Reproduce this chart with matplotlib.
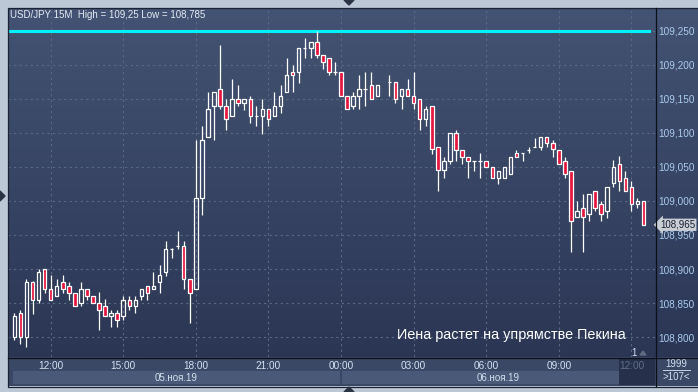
import numpy as np
import pandas as pd
import matplotlib
matplotlib.use('Agg')
import matplotlib.pyplot as plt
import matplotlib.transforms as mtransforms
from matplotlib.colors import LinearSegmentedColormap
from matplotlib.patches import Polygon, Rectangle

plt.rcParams['font.family'] = ['Liberation Sans', 'DejaVu Sans']

# USD/JPY 15M candles, 05.11.2019 10:30 -> 06.11.2019 12:30 (one bar missing)
opens = [108.800, 108.835, 108.800, 108.881, 108.855, 108.900, 108.870, 108.860, 108.881, 108.875,
         108.865, 108.850, 108.870, 108.860, 108.850, 108.846, 108.831, 108.835, 108.831, 108.855,
         108.846, 108.860, 108.875, 108.870, 108.881, 108.895, 108.930, 108.934, 108.934, 108.886,
         108.870, 109.005, 109.094, 109.139, 109.165, 109.140, 109.125, 109.150, 109.144, 109.150,
         109.125, 109.125, 109.135, 109.125, 109.140, 109.160, 109.190, 109.190, 109.225, 109.225,
         109.234, 109.215, 109.210, 109.190, 109.190, 109.155, 109.140, 109.155, 109.165, 109.170,
         109.155, np.nan, 109.175, 109.175, 109.155, 109.165, 109.155, 109.150, 109.120, 109.140,
         109.080, 109.046, 109.059, 109.100, 109.075, 109.065, 109.059, 109.059, 109.059, 109.050,
         109.034, 109.034, 109.040, 109.070, 109.070, 109.075, 109.080, 109.080, 109.094, 109.086,
         109.075, 109.059, 109.044, 108.976, 108.990, 108.981, 109.015, 108.995, 108.985, 109.026,
         109.055, 109.034, 109.020, 108.995, 109.000]
highs = [108.836, 108.840, 108.886, 108.882, 108.900, 108.900, 108.891, 108.886, 108.891, 108.881,
         108.865, 108.881, 108.870, 108.860, 108.866, 108.856, 108.840, 108.840, 108.860, 108.860,
         108.860, 108.870, 108.875, 108.895, 108.906, 108.941, 108.931, 108.956, 108.941, 108.886,
         109.090, 109.111, 109.161, 109.161, 109.230, 109.150, 109.179, 109.170, 109.150, 109.155,
         109.139, 109.150, 109.135, 109.161, 109.170, 109.210, 109.200, 109.225, 109.239, 109.234,
         109.250, 109.215, 109.210, 109.204, 109.190, 109.155, 109.160, 109.186, 109.190, 109.190,
         109.170, np.nan, 109.186, 109.175, 109.165, 109.179, 109.190, 109.150, 109.140, 109.140,
         109.080, 109.064, 109.100, 109.105, 109.075, 109.065, 109.059, 109.070, 109.059, 109.050,
         109.044, 109.050, 109.065, 109.075, 109.070, 109.080, 109.092, 109.094, 109.094, 109.090,
         109.075, 109.065, 109.044, 109.000, 109.010, 109.010, 109.015, 109.000, 109.020, 109.060,
         109.066, 109.044, 109.030, 109.005, 109.000]
lows = [108.795, 108.790, 108.785, 108.834, 108.850, 108.865, 108.855, 108.860, 108.865, 108.855,
        108.846, 108.846, 108.855, 108.850, 108.810, 108.831, 108.815, 108.815, 108.825, 108.840,
        108.835, 108.855, 108.855, 108.870, 108.865, 108.890, 108.916, 108.930, 108.870, 108.820,
        108.870, 108.980, 109.094, 109.090, 109.135, 109.104, 109.125, 109.139, 109.134, 109.115,
        109.110, 109.099, 109.110, 109.125, 109.130, 109.160, 109.160, 109.174, 109.210, 109.210,
        109.210, 109.194, 109.185, 109.185, 109.155, 109.135, 109.135, 109.135, 109.139, 109.150,
        109.155, np.nan, 109.155, 109.144, 109.135, 109.155, 109.135, 109.104, 109.110, 109.069,
        109.015, 109.034, 109.054, 109.059, 109.054, 109.034, 109.044, 109.034, 109.050, 109.034,
        109.025, 109.034, 109.040, 109.065, 109.059, 109.070, 109.080, 109.075, 109.080, 109.065,
        109.055, 109.034, 108.925, 108.976, 108.925, 108.970, 108.985, 108.970, 108.975, 109.020,
        109.015, 109.015, 108.985, 108.990, 108.965]
closes = [108.831, 108.800, 108.881, 108.855, 108.895, 108.870, 108.855, 108.875, 108.870, 108.865,
          108.846, 108.870, 108.860, 108.850, 108.840, 108.831, 108.835, 108.825, 108.855, 108.846,
          108.855, 108.870, 108.865, 108.875, 108.891, 108.930, 108.930, 108.934, 108.886, 108.865,
          109.005, 109.090, 109.135, 109.161, 109.139, 109.120, 109.150, 109.144, 109.150, 109.125,
          109.125, 109.135, 109.120, 109.140, 109.155, 109.186, 109.186, 109.225, 109.225, 109.234,
          109.215, 109.204, 109.190, 109.190, 109.155, 109.135, 109.155, 109.165, 109.165, 109.150,
          109.170, np.nan, 109.175, 109.150, 109.165, 109.155, 109.144, 109.120, 109.135, 109.076,
          109.046, 109.059, 109.100, 109.075, 109.065, 109.059, 109.059, 109.059, 109.050, 109.034,
          109.044, 109.050, 109.065, 109.065, 109.070, 109.075, 109.080, 109.094, 109.086, 109.076,
          109.055, 109.040, 108.970, 108.985, 108.976, 109.010, 108.990, 108.981, 109.020, 109.050,
          109.030, 109.015, 108.995, 109.000, 108.965]
price_levels = [108.80, 108.85, 108.90, 108.95, 109.00, 109.05, 109.10, 109.15, 109.20, 109.25]
months_ru = {11: 'ноя'}
headline = 'Иена растет на упрямстве Пекина'

o, h, l, c = (np.array(v, dtype=float) for v in (opens, highs, lows, closes))
times = pd.date_range('2019-11-05 10:30', periods=len(o), freq='15min')
x = np.arange(len(o))

W, H = 698, 392
fig = plt.figure(figsize=(W / 100, H / 100), dpi=100)
fig.patch.set_facecolor('#bdc8d6')


def rect(x0, y0, x1, y1):
    # pixel box (top-left origin) -> figure fraction
    return [x0 / W, 1 - y1 / H, (x1 - x0) / W, (y1 - y0) / H]


XLIM = (-1.05, 105.9)
YLIM = (108.7706, 109.2838)

# gradient background for price area + right scale
ax_bg = fig.add_axes(rect(8, 8, 698, 357))
grad = LinearSegmentedColormap.from_list('bg', ['#2b3654', '#445373'])
ax_bg.imshow(np.linspace(0, 1, 256).reshape(-1, 1), aspect='auto', cmap=grad,
             origin='lower', extent=[0, 1, 0, 1])
ax_bg.axis('off')

# time scale panel
ax_time = fig.add_axes(rect(8, 357, 655, 386))
ax_time.set_facecolor('#3a4765')
ax_time.set_xlim(*XLIM)
ax_time.set_ylim(0, 1)
ax_time.set_xticks([])
ax_time.set_yticks([])
for s in ax_time.spines.values():
    s.set_visible(False)

days = times.normalize().unique()
for k, d in enumerate(days):
    idx = np.where(times.normalize() == d)[0]
    x0 = idx[0] - 0.2 if k == 0 else idx[0] + 0.1
    x1 = idx[-1] + 0.8 if k < len(days) - 1 else XLIM[1]
    ax_time.axvspan(x0, x1, ymin=0.07, ymax=0.52, color='#4a5977', lw=0)
    label = f"{d.day:02d}.{months_ru[d.month]}.{d.strftime('%y')}"
    ax_time.text((x0 + x1) / 2, 0.29, label, ha='center', va='center',
                 fontsize=7, color='#d3e0ee')
ax_time.add_patch(Rectangle((0.944, 0.04), 0.056, 0.9, transform=ax_time.transAxes,
                            color='#27304a', lw=0))

# corner box
ax_corner = fig.add_axes(rect(655, 357, 698, 386))
ax_corner.set_facecolor('#3a4765')
ax_corner.set_xticks([])
ax_corner.set_yticks([])
for s in ax_corner.spines.values():
    s.set_visible(False)
ax_corner.text(0.5, 0.76, '1999', ha='center', va='center', fontsize=7, color='#d3e0ee',
               transform=ax_corner.transAxes)
ax_corner.plot([0.18, 0.82], [0.55, 0.55], color='#c8d4e2', lw=0.7, transform=ax_corner.transAxes)
ax_corner.text(0.5, 0.32, '>107<', ha='center', va='center', fontsize=7, color='#d3e0ee',
               transform=ax_corner.transAxes)

# price chart
ax = fig.add_axes(rect(8, 8, 655, 357))
ax.patch.set_alpha(0)
ax.set_xlim(*XLIM)
ax.set_ylim(*YLIM)
for s in ax.spines.values():
    s.set_visible(False)

ax.set_yticks(price_levels)
ax.set_yticklabels([f"{v:.3f}".replace('.', ',') for v in price_levels])
ax.yaxis.tick_right()
ax.tick_params(axis='y', length=0, pad=2.2, labelsize=7.2, labelcolor='#a9cbef')

tick_idx = np.where((times.minute == 0) & (times.hour % 3 == 0))[0]
ax.set_xticks(tick_idx)
ax.set_xticklabels(times[tick_idx].strftime('%H:%M'))
ax.tick_params(axis='x', length=0, pad=3.2, labelsize=7.2, labelcolor='#d5e2f0')
ax.get_xticklabels()[-1].set_color('#5f6f8a')

ax.grid(True, color='#5a6984', ls=(0, (2, 3)), lw=0.8)
ax.set_axisbelow(True)

ok = ~np.isnan(o)
top = np.maximum(o, c)
bot = np.minimum(o, c)
ax.vlines(x[ok], top[ok], h[ok], color='white', lw=0.9, zorder=3)
ax.vlines(x[ok], l[ok], bot[ok], color='white', lw=0.9, zorder=3)
face = np.where(c < o, '#e5173f', 'none')
ax.bar(x[ok], (top - bot)[ok], bottom=bot[ok], width=0.58, color=list(face[ok]),
       edgecolor='white', linewidth=0.9, zorder=4)

hi = np.nanmax(h)
lo = np.nanmin(l)
ax.axhline(hi, xmin=0, xmax=0.991, color='#00f2ff', lw=2.2, zorder=2)

# last price tag
blend = mtransforms.blended_transform_factory(ax.transAxes, ax.transData)
last = c[~np.isnan(c)][-1]
ax.text(1.008, last, f"{last:.3f}".replace('.', ','), transform=blend, ha='left', va='center',
        fontsize=7, color='#1a2030', clip_on=False, zorder=6,
        bbox=dict(boxstyle='larrow,pad=0.12', fc='#c9cdd4', ec='none'))

# overlay in pixel coords
ov = fig.add_axes([0, 0, 1, 1], zorder=5)
ov.set_xlim(0, W)
ov.set_ylim(H, 0)
ov.axis('off')
ov.patch.set_alpha(0)

ov.plot([655.5, 655.5], [8, 386], color='#0b0f18', lw=0.9)
ov.plot([8, 698], [357.5, 357.5], color='#0b0f18', lw=0.9)
ov.add_patch(Rectangle((7.5, 7.5), 691, 379, fill=False, ec='#1b2233', lw=0.9))

title = f"USD/JPY 15M  High = {hi:g} Low = {lo:g}".replace('.', ',')
ov.text(10, 9.5, title, ha='left', va='top', fontsize=7, color='#e4ebf3')
ov.text(397, 339, headline, ha='left', va='baseline', fontsize=10.4, color='white')
ov.text(634, 353, '1', ha='center', va='center', fontsize=7, color='#d3e0ee')
ov.add_patch(Polygon([(640, 355), (646, 355), (643, 351)], color='#5d6a80'))

for pts in ([(344, 0), (354, 0), (349, 5)],
            [(344, 392), (354, 392), (349, 387)],
            [(0, 191), (0, 201), (5, 196)]):
    ov.add_patch(Polygon(pts, color='#2a3344'))

fig.savefig('out.png', dpi=100, facecolor=fig.get_facecolor())
